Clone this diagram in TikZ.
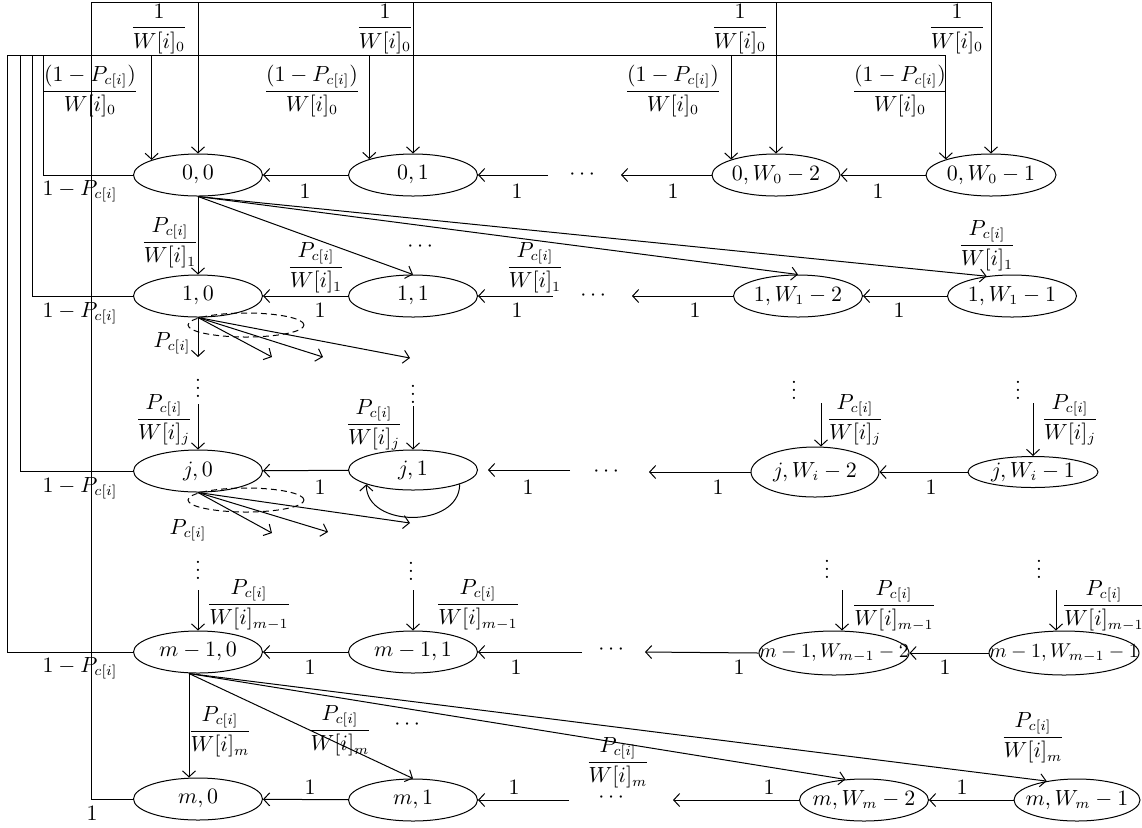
\documentclass[tikz,border=0pt]{standalone}
\usepackage{amsmath}
\usetikzlibrary{arrows.meta,calc,shapes.geometric}
\newcommand\fa{\dfrac{1}{W[i]_0}}
\newcommand\fb{\dfrac{(1-P_{c[i]})}{W[i]_0}}
\newcommand\fp[1]{\dfrac{P_{c[i]}}{W[i]_{#1}}}
\newcommand\omp{1-P_{c[i]}}
\newcommand\stt[1]{\makebox[0pt]{$#1$}}
\begin{document}
\begin{tikzpicture}[x=0.5pt,y=-0.5pt,line width=0.5pt,
  font=\fontsize{10.5}{12.5}\selectfont,
  st/.style={draw,ellipse,minimum width=64.5pt,minimum height=21pt,inner sep=0pt},
  lab/.style={inner sep=0pt},
  arr/.style={-{Straight Barb[length=3pt,width=6.5pt]}},
  dsh/.style={dash pattern=on 3pt off 2pt}]
\useasboundingbox (0,0) rectangle (1142,827);
% ---- states
\node[st] (n00) at (198,175) {\stt{0,0}};
\node[st] (n01) at (413,175) {\stt{0,1}};
\node[st,minimum width=64pt] (n0a) at (776,175) {\stt{0,W_0-2}};
\node[st,minimum width=65pt] (n0b) at (991,175) {\stt{0,W_0-1}};
\node[st] (n10) at (198,296) {\stt{1,0}};
\node[st] (n11) at (413,296) {\stt{1,1}};
\node[st] (n1a) at (798,296) {\stt{1,W_1-2}};
\node[st] (n1b) at (1012,296) {\stt{1,W_1-1}};
\node[st] (nj0) at (198,471) {\stt{j,0}};
\node[st,minimum height=20pt] (nj1) at (413,470) {\stt{j,1}};
\node[st,minimum width=64pt,minimum height=25pt] (nja) at (815,472) {\stt{j,W_i-2}};
\node[st,minimum width=65pt,minimum height=15.5pt] (njb) at (1033,472) {\stt{j,W_i-1}};
\node[st] (nm0) at (198,652) {\stt{m-1,0}};
\node[st] (nm1) at (413,652) {\stt{m-1,1}};
\node[st,minimum width=75pt,minimum height=22pt,font=\fontsize{9.8}{12}\selectfont] (nma) at (834,653) {\stt{m-1,W_{m-1}-2}};
\node[st,minimum width=75pt,minimum height=22pt,font=\fontsize{9.8}{12}\selectfont] (nmb) at (1064,653) {\stt{m-1,W_{m-1}-1}};
\node[st] (nM0) at (198,799) {\stt{m,0}};
\node[st] (nM1) at (413,800) {\stt{m,1}};
\node[st] (nMa) at (864,800) {\stt{m,W_m-2}};
\node[st,minimum width=63pt] (nMb) at (1077,800) {\stt{m,W_m-1}};
% ---- horizontal dots
\node[lab] (d0) at (584,175) {$\cdots$};
\node[lab] (d1) at (595,296) {$\cdots$};
\node[lab] (dj) at (608,472) {$\cdots$};
\node[lab] (dm) at (613,650) {$\cdots$};
\node[lab] (dM) at (613,798) {$\cdots$};
% ---- free ends
\coordinate (c0) at (548,175);  \coordinate (c0e) at (621,175);
\coordinate (c1) at (553,296);  \coordinate (c1e) at (632,296);
\coordinate (cj) at (570,470);  \coordinate (cje) at (649,472);
\coordinate (cm) at (582,652);  \coordinate (cme) at (645,652);
\coordinate (cM) at (569,800);  \coordinate (cMe) at (673,800);
\coordinate (b1L) at (91,2);
\coordinate (b2L) at (7,55);
% ---- row arrows
\draw[arr] (n01) -- (n00);
\draw[arr] (c0) -- (n01);
\draw[arr] (n0a) -- (c0e);
\draw[arr] (n0b) -- (n0a);
\draw[arr] (n11) -- (n10);
\draw[arr] (c1) -- (n11);
\draw[arr] (n1a) -- (c1e);
\draw[arr] (n1b) -- (n1a);
\draw[arr] (nj1) -- (nj0);
\draw[arr,shorten >=5pt] (cj) -- (nj1);
\draw[arr] (nja) -- (cje);
\draw[arr] (njb) -- (nja);
\draw[arr] (nm1) -- (nm0);
\draw[arr] (cm) -- (nm1);
\draw[arr] (nma.west) -- (cme);
\draw[arr] (nmb) -- (nma);
\draw[arr] (nM1) -- (nM0);
\draw[arr] (cM) -- (nM1);
\draw[arr] (nMa) -- (cMe);
\draw[arr] (nMb) -- (nMa);
% ---- row labels "1"
\foreach \x/\y [count=\k] in {305/191,517/191,673/191,878/191,320/310,517/310,695/310,899/310,
  320/487,528/487,718/487,931/487,310/667,516/667,739/667,945/667,310/787,514/787,769/787,962/787,92/813}
  \node[lab] (one\k) at (\x,\y) {$1$};
% ---- feedback lines
\draw (n00.west) -| (43,55);
\draw (n10.west) -| (32,55);
\draw (nj0.west) -| (20,55);
\draw (nm0.west) -| (b2L);
\draw (b2L) -- (n0b.161 |- b2L);
\draw (nM0.west) -| (b1L) -- (n0b.north |- b1L);
\draw[arr] (n00.162 |- b2L) -- (n00.162);
\draw[arr] (n00.north |- b1L) -- (n00.north);
\draw[arr] (n01.160 |- b2L) -- (n01.160);
\draw[arr] (n01.north |- b1L) -- (n01.north);
\draw[arr] (n0a.161 |- b2L) -- (n0a.161);
\draw[arr] (n0a.north |- b1L) -- (n0a.north);
\draw[arr] (n0b.161 |- b2L) -- (n0b.161);
\draw[arr] (n0b.north |- b1L) -- (n0b.north);
\node[lab] (la1) at (159,29) {$\fa$};
\node[lab] (la2) at (385,29) {$\fa$};
\node[lab] (la3) at (740,29) {$\fa$};
\node[lab] (la4) at (957,29) {$\fa$};
\node[lab] (lb1) at (90,91) {$\fb$};
\node[lab] (lb2) at (312,91) {$\fb$};
\node[lab] (lb3) at (673,91) {$\fb$};
\node[lab] (lb4) at (900,91) {$\fb$};
\node[lab] (lc0) at (80,191) {$\omp$};
\node[lab] (lc1) at (80,313) {$\omp$};
\node[lab] (lcj) at (80,488) {$\omp$};
\node[lab] (lcm) at (80,668) {$\omp$};
% ---- fan from (0,0)
\draw[arr] (n00.south) -- (n10.north);
\draw[arr] (n00.south) -- (n11.north);
\draw[arr] (n00.south) -- (n1a.north);
\draw[arr] (n00.south) -- (n1b.142);
\node[lab] (p1a) at (170,243) {$\fp{1}$};
\node[lab] (p1b) at (316,268) {$\fp{1}$};
\node[lab] (d1u) at (422,247) {$\cdots$};
\node[lab] (p1c) at (535,268) {$\fp{1}$};
\node[lab] (p1d) at (987,246) {$\fp{1}$};
% ---- fan from (1,0)
\coordinate (f1a) at (198,357); \coordinate (f1b) at (272,357);
\coordinate (f1c) at (323,357); \coordinate (f1d) at (410,358);
\coordinate (de1) at (246,325);
\draw[dsh] (de1) ellipse [x radius=29pt, y radius=6pt];
\foreach \t in {f1a,f1b,f1c,f1d} \draw[arr] (n10.south) -- (\t);
\node[lab] (pc1) at (172,343) {$P_{c[i]}$};
% ---- between rows 1 and j
\node[lab] (v10) at (198,382) {$\vdots$};
\node[lab] (v11) at (413,388) {$\vdots$};
\node[lab] (v1a) at (794,384) {$\vdots$};
\node[lab] (v1b) at (1018,384) {$\vdots$};
\coordinate (aj0) at (198,404); \coordinate (aj1) at (413,406);
\coordinate (aja) at (821,403); \coordinate (ajb) at (1033,403);
\draw[arr] (aj0) -- (nj0.north);
\draw[arr] (aj1) -- (nj1.north);
\draw[arr] (aja) -- (aja |- nja.north);
\draw[arr] (ajb) -- (njb.north);
\node[lab] (pj0) at (164,420) {$\fp{j}$};
\node[lab] (pj1) at (374,425) {$\fp{j}$};
\node[lab] (pja) at (855,420) {$\fp{j}$};
\node[lab] (pjb) at (1070,420) {$\fp{j}$};
% ---- self loop on (j,1)
\draw[arr] (nj1.-17) .. controls +(0,44) and +(0,44) .. (nj1.197);
% ---- fan from (j,0)
\coordinate (fja) at (272,533); \coordinate (fjb) at (328,532); \coordinate (fjc) at (410,523);
\coordinate (de2) at (246,500);
\draw[dsh] (de2) ellipse [x radius=29pt, y radius=6pt];
\foreach \t in {fja,fjb,fjc} \draw[arr] (nj0.south) -- (\t);
\node[lab] (pcj) at (188,530) {$P_{c[i]}$};
% ---- between rows j and m-1
\node[lab] (vj0) at (198,564) {$\vdots$};
\node[lab] (vj1) at (411,565) {$\vdots$};
\node[lab] (vja) at (827,563) {$\vdots$};
\node[lab] (vjb) at (1039,563) {$\vdots$};
\coordinate (am0) at (198,590); \coordinate (am1) at (413,590);
\coordinate (ama) at (842,590); \coordinate (amb) at (1056,590);
\draw[arr] (am0) -- (nm0.north);
\draw[arr] (am1) -- (nm1.north);
\draw[arr] (ama) -- (ama |- nma.north);
\draw[arr] (amb) -- (amb |- nmb.north);
\node[lab] (pm0) at (249,605) {$\fp{m-1}$};
\node[lab] (pm1) at (478,605) {$\fp{m-1}$};
\node[lab] (pma) at (894,606) {$\fp{m-1}$};
\node[lab] (pmb) at (1104,606) {$\fp{m-1}$};
% ---- fan from (m-1,0)
\coordinate (fm) at ([xshift=-4.5pt]nm0.south);
\draw[arr] (fm) -- (fm |- nM0.north);
\draw[arr] (fm) -- (nM1.north);
\draw[arr] (fm) -- (nMa.132);
\draw[arr] (fm) -- (nMb.148);
\node[lab] (pM0) at (220,732) {$\fp{m}$};
\node[lab] (pM1) at (340,731) {$\fp{m}$};
\node[lab] (dMu) at (409,725) {$\cdots$};
\node[lab] (pMa) at (618,763) {$\fp{m}$};
\node[lab] (pMb) at (1033,738) {$\fp{m}$};
\end{tikzpicture}
\end{document}
